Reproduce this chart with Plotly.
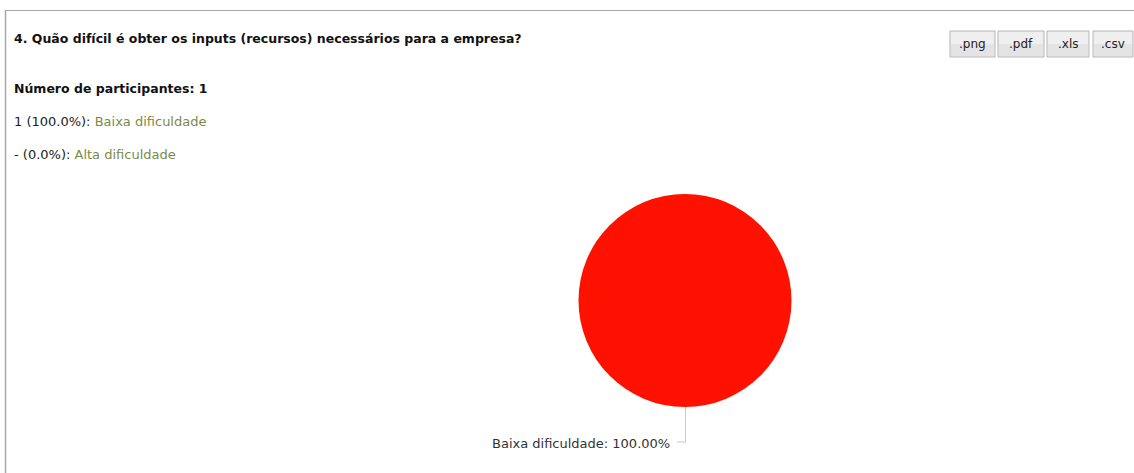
import plotly.graph_objects as go

# Survey question and answers
question = "4. Quão difícil é obter os inputs (recursos) necessários para a empresa?"
categories = ["Baixa dificuldade", "Alta dificuldade"]
counts = [1, 0]
participants = 1
export_buttons = [".png", ".pdf", ".xls", ".csv"]

W, H = 1134, 473
FONT = "DejaVu Sans"
slice_color = "#FF1100"
answer_color = "#7B8A46"

total = sum(counts)
shares = [c / total * 100 if total else 0 for c in counts]

# Pie placement in pixels
cx, cy, r = 685, 300.5, 106.5


def px(x):
    return x / W


def py(y):
    return 1 - y / H


fig = go.Figure(go.Pie(
    labels=categories,
    values=counts,
    marker=dict(colors=[slice_color, "#3366CC"], line=dict(width=0)),
    textinfo="none",
    hoverinfo="label+percent",
    sort=False,
    direction="clockwise",
    showlegend=False,
    domain=dict(x=[px(cx - r), px(cx + r)], y=[py(cy + r), py(cy - r)]),
))

shapes = []
annotations = []

# Panel frame (left and top edges)
shapes.append(dict(type="line", xref="paper", yref="paper", x0=px(5.5), x1=px(5.5), y0=0, y1=py(10),
                   line=dict(color="#A8A8A8", width=1.5)))
shapes.append(dict(type="line", xref="paper", yref="paper", x0=px(5.5), x1=1, y0=py(10.5), y1=py(10.5),
                   line=dict(color="#A8A8A8", width=1)))

# Title and summary text
annotations.append(dict(text="<b>" + question + "</b>", x=px(12), y=py(38), xref="paper", yref="paper",
                        xanchor="left", yanchor="middle", showarrow=False,
                        font=dict(family=FONT, size=12.5, color="#111111")))
annotations.append(dict(text="<b>Número de participantes: %d</b>" % participants, x=px(12), y=py(88),
                        xref="paper", yref="paper", xanchor="left", yanchor="middle", showarrow=False,
                        font=dict(family=FONT, size=12.5, color="#111111")))
for i, (cat, cnt, sh) in enumerate(zip(categories, counts, shares)):
    cnt_txt = str(cnt) if cnt else "-"
    annotations.append(dict(
        text="%s (%.1f%%): <span style='color:%s'>%s</span>" % (cnt_txt, sh, answer_color, cat),
        x=px(12), y=py(121 + 33 * i), xref="paper", yref="paper", xanchor="left", yanchor="middle",
        showarrow=False, font=dict(family=FONT, size=13, color="#222222")))

# Export buttons
btn_x = [950, 998, 1047, 1093]
btn_w = [45, 46, 42, 40]
for label, bx, bw in zip(export_buttons, btn_x, btn_w):
    shapes.append(dict(type="rect", xref="paper", yref="paper", x0=px(bx), x1=px(bx + bw),
                       y0=py(57), y1=py(31), line=dict(color="#B5B5B5", width=1),
                       fillcolor="#EFEFEF"))
    shapes.append(dict(type="rect", xref="paper", yref="paper", x0=px(bx + 1), x1=px(bx + bw - 1),
                       y0=py(56), y1=py(44), line=dict(width=0), fillcolor="#E4E4E4"))
    annotations.append(dict(text=label, x=px(bx + bw / 2), y=py(44.5), xref="paper", yref="paper",
                            xanchor="center", yanchor="middle", showarrow=False,
                            font=dict(family=FONT, size=12, color="#222222")))

# Leader line and slice label
ly = 442
shapes.append(dict(type="line", xref="paper", yref="paper", x0=px(cx + 0.5), x1=px(cx + 0.5),
                   y0=py(cy + r), y1=py(ly), line=dict(color="#C8C8C8", width=1)))
shapes.append(dict(type="line", xref="paper", yref="paper", x0=px(cx + 0.5), x1=px(cx - 8),
                   y0=py(ly), y1=py(ly), line=dict(color="#C8C8C8", width=1)))
annotations.append(dict(text="%s: %.2f%%" % (categories[0], shares[0]), x=px(cx - 13), y=py(ly + 1.5),
                        xref="paper", yref="paper", xanchor="right", yanchor="middle", showarrow=False,
                        font=dict(family=FONT, size=13, color="#333333")))

fig.update_layout(
    width=W, height=H,
    margin=dict(l=0, r=0, t=0, b=0),
    paper_bgcolor="white", plot_bgcolor="white",
    shapes=shapes, annotations=annotations,
)

fig.write_html("out.html", config={"displayModeBar": False})
